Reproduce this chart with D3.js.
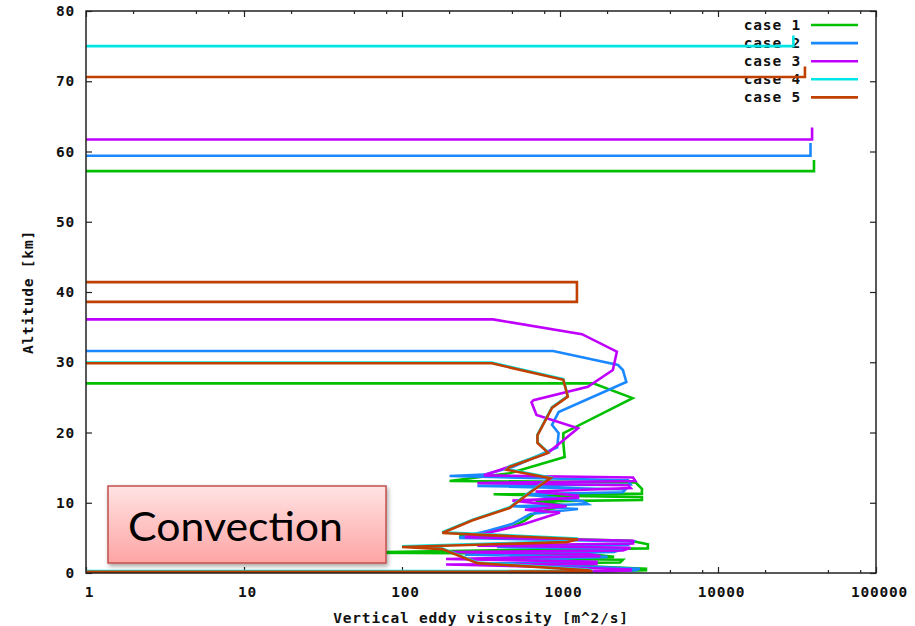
<!DOCTYPE html>
<html>
<head>
<meta charset="utf-8">
<script src="https://cdn.jsdelivr.net/npm/d3@7"></script>
<style>
  body { margin: 0; background: #fff; }
  .mono { font-family: "DejaVu Sans Mono", monospace; font-weight: bold; font-size: 14.5px; letter-spacing: 0.8px; fill: #111; }
</style>
</head>
<body>
<svg id="chart" width="915" height="626"></svg>
<script>
// Profile labels and colours
const caseNames  = ["case 1", "case 2", "case 3", "case 4", "case 5"];
const caseColors = ["#00c000", "#1a88ff", "#c000ff", "#00e6e6", "#c04000"];

// Axis ticks
const xTickValues = [1, 10, 100, 1000, 10000, 100000];
const xMinorMultipliers = [2, 5, 8];
const yTickValues = [0, 10, 20, 30, 40, 50, 60, 70, 80];

// Vertical eddy viscosity profiles: [viscosity m^2/s, altitude km], top to bottom.
// Values below 1 m^2/s fall off the left of the log axis.
const case1 = [[40500,58.8],[40500,57.2],[0.1,57.2],[0.1,27.0],[1620,27.0],[2880,24.9],[1050,19.9],[1050,18.5],[1070,16.5],
  [480,14.2],[200,13.1],[3000,12.9],[3300,12.0],[3300,11.3],[380,11.2],[3300,10.8],[3300,10.4],[700,10.2],[1100,9.6],[700,8.6],
  [600,7.5],[500,6.6],[300,5.5],[230,5.2],[2800,4.6],[3600,4.1],[3600,3.5],[600,3.3],[50,2.9],[1500,2.7],[2200,2.3],[400,2.1],
  [2500,1.9],[2400,1.5],[300,1.3],[1400,1.0],[3500,0.6],[3500,0.4],[1500,0.2],[0.1,0.2]];
const case2 = [[38500,61.2],[38500,59.4],[0.1,59.4],[0.1,31.6],[904,31.6],[2330,29.6],[2500,28.9],[2630,27.2],[980,22.9],[890,21.1],
  [980,19.9],[960,17.9],[500,15.1],[330,14.0],[200,13.8],[2700,13.2],[2800,12.6],[300,12.4],[2600,11.9],[2500,11.5],[600,11.2],
  [1400,10.2],[1500,9.8],[500,9.5],[1300,9.1],[650,8.4],[500,7.0],[350,6.0],[230,5.0],[2900,4.5],[2700,4.0],[400,3.7],[2500,3.4],
  [2200,3.0],[250,2.6],[2000,2.3],[600,1.9],[1500,1.6],[300,1.3],[1200,1.0],[3200,0.6],[3000,0.4],[1500,0.2],[0.1,0.2]];
const case3 = [[39400,63.4],[39400,61.7],[0.1,61.7],[0.1,36.1],[377,36.1],[1377,34.0],[2290,31.5],[2160,28.9],[1500,26.5],[680,24.6],
  [660,24.3],[710,22.5],[1300,20.6],[840,17.1],[420,14.7],[330,13.9],[2900,13.6],[3000,13.1],[300,12.8],[2700,12.5],[2800,12.1],
  [700,11.6],[1300,11.0],[1300,10.7],[500,10.3],[1100,9.5],[600,9.0],[1000,8.6],[600,7.0],[400,6.0],[250,5.1],[2900,4.6],[2900,4.2],
  [300,3.9],[2800,3.6],[2500,3.2],[200,3.0],[1500,2.7],[1800,2.4],[190,2.0],[1700,1.6],[1700,1.3],[190,1.2],[800,0.9],[2800,0.5],
  [2800,0.35],[1500,0.2],[0.1,0.2]];
const case4 = [[30000,76.5],[30000,75.0],[0.1,75.0],[0.1,29.95],[370,29.95],[1050,27.6],[1120,25.2],[890,23.6],[720,19.7],[720,18.6],
  [840,17.2],[480,15.2],[460,14.8],[870,13.6],[650,11.6],[480,9.35],[280,7.6],[180,5.8],[1300,4.9],[1100,4.5],[100,3.8],[180,3.5],
  [300,1.5],[1500,0.5],[1600,0.3],[0.1,0.25]];
const case5 = [[35500,72.1],[35500,70.6],[0.1,70.6],[0.1,41.4],[1280,41.4],[1280,38.6],[0.1,38.6],[0.1,29.85],[370,29.85],[1050,27.5],
  [1120,25.1],[890,23.5],[720,19.6],[720,18.5],[840,17.1],[480,15.1],[460,14.7],[870,13.5],[650,11.5],[480,9.25],[280,7.5],[180,5.7],
  [1300,4.8],[1100,4.4],[100,3.7],[180,3.4],[300,1.4],[1500,0.4],[1600,0.2],[0.1,0.15]];
const profiles = [case1, case2, case3, case4, case5];

const svg = d3.select("#chart");
const W = 915, H = 626;
const plot = { left: 86, right: 876, top: 11, bottom: 573 };

const x = d3.scaleLog().domain([1, 100000]).range([plot.left, plot.right]);
const y = d3.scaleLinear().domain([0, 80]).range([plot.bottom, plot.top]);

svg.append("rect").attr("width", W).attr("height", H).attr("fill", "#fff");

const defs = svg.append("defs");
defs.append("clipPath").attr("id", "plot-clip")
  .append("rect")
  .attr("x", plot.left).attr("y", plot.top)
  .attr("width", plot.right - plot.left).attr("height", plot.bottom - plot.top);

// Axes with inward ticks on all four sides
function styleAxis(g) {
  g.select(".domain").remove();
  g.selectAll(".tick line").attr("stroke", "#222").attr("stroke-width", 1.2);
  g.selectAll(".tick text").attr("class", "mono").attr("fill", "#111");
}
svg.append("g").attr("transform", `translate(0,${plot.bottom})`)
  .call(d3.axisBottom(x).tickValues(xTickValues).tickSize(-6).tickPadding(14).tickFormat(d3.format("d")))
  .call(styleAxis)
  .selectAll(".tick text").attr("dx", "3");
svg.append("g").attr("transform", `translate(0,${plot.top})`)
  .call(d3.axisTop(x).tickValues(xTickValues).tickSize(-6).tickFormat(""))
  .call(styleAxis);
svg.append("g").attr("transform", `translate(${plot.left},0)`)
  .call(d3.axisLeft(y).tickValues(yTickValues).tickSize(-6).tickPadding(11))
  .call(styleAxis);
svg.append("g").attr("transform", `translate(${plot.right},0)`)
  .call(d3.axisRight(y).tickValues(yTickValues).tickSize(-6).tickFormat(""))
  .call(styleAxis);

// Minor log ticks
const minorValues = [];
xTickValues.slice(0, -1).forEach(v => xMinorMultipliers.forEach(m => minorValues.push(v * m)));
const minor = svg.append("g");
minorValues.forEach(v => {
  minor.append("line").attr("x1", x(v)).attr("x2", x(v)).attr("y1", plot.bottom).attr("y2", plot.bottom - 3)
    .attr("stroke", "#222").attr("stroke-width", 1.2);
  minor.append("line").attr("x1", x(v)).attr("x2", x(v)).attr("y1", plot.top).attr("y2", plot.top + 3)
    .attr("stroke", "#222").attr("stroke-width", 1.2);
});

// Axis titles
svg.append("text").attr("class", "mono")
  .attr("x", (plot.left + plot.right) / 2).attr("y", 623)
  .attr("text-anchor", "middle")
  .text("Vertical eddy viscosity [m^2/s]");
svg.append("text").attr("class", "mono")
  .attr("transform", `translate(33,${(plot.top + plot.bottom) / 2}) rotate(-90)`)
  .attr("text-anchor", "middle")
  .text("Altitude [km]");

// Legend text (drawn beneath the profiles)
const legend = svg.append("g");
caseNames.forEach((name, i) => {
  const ly = 25 + i * 18.1;
  legend.append("text").attr("class", "mono")
    .attr("x", 801).attr("y", ly + 5)
    .attr("text-anchor", "end")
    .text(name);
});

// Profiles
const line = d3.line().x(d => x(d[0])).y(d => y(d[1]));
const lines = svg.append("g").attr("clip-path", "url(#plot-clip)");
profiles.forEach((p, i) => {
  lines.append("path").datum(p)
    .attr("d", line)
    .attr("fill", "none")
    .attr("stroke", caseColors[i])
    .attr("stroke-width", 2.6)
    .attr("stroke-linejoin", "miter");
});

// Legend samples
caseNames.forEach((name, i) => {
  const ly = 25 + i * 18.1;
  legend.append("line")
    .attr("x1", 811).attr("x2", 858).attr("y1", ly).attr("y2", ly)
    .attr("stroke", caseColors[i]).attr("stroke-width", 2.6);
});

// Plot frame
svg.append("rect")
  .attr("x", plot.left).attr("y", plot.top)
  .attr("width", plot.right - plot.left).attr("height", plot.bottom - plot.top)
  .attr("fill", "none").attr("stroke", "#222").attr("stroke-width", 1.5);

// "Convection" callout box
const grad = defs.append("linearGradient").attr("id", "box-fill")
  .attr("x1", 0).attr("y1", 0).attr("x2", 0).attr("y2", 1);
grad.append("stop").attr("offset", "0%").attr("stop-color", "#ffe3e3");
grad.append("stop").attr("offset", "100%").attr("stop-color", "#fea4a4");
const shadow = defs.append("filter").attr("id", "box-shadow")
  .attr("x", "-10%").attr("y", "-10%").attr("width", "130%").attr("height", "140%");
shadow.append("feDropShadow").attr("dx", 1.5).attr("dy", 2.5).attr("stdDeviation", 2)
  .attr("flood-color", "#000").attr("flood-opacity", 0.35);

svg.append("rect")
  .attr("x", 108).attr("y", 486).attr("width", 278).attr("height", 77)
  .attr("fill", "url(#box-fill)").attr("stroke", "#c0504d").attr("stroke-width", 1.5)
  .attr("filter", "url(#box-shadow)");
svg.append("text")
  .attr("x", 128).attr("y", 541)
  .attr("font-family", "Lato, 'Open Sans', sans-serif")
  .attr("font-size", 40)
  .attr("fill", "#000")
  .attr("textLength", 215)
  .attr("lengthAdjust", "spacingAndGlyphs")
  .text("Convection");
</script>
</body>
</html>
